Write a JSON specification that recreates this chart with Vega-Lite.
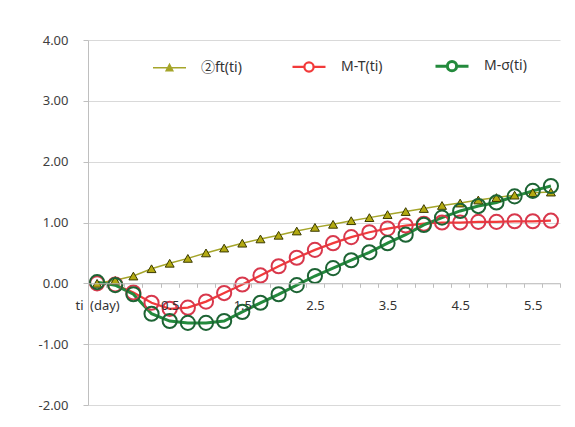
{
  "$schema": "https://vega.github.io/schema/vega-lite/v6.json",
  "width": 472,
  "height": 365,
  "autosize": "none",
  "padding": {"left": 88, "top": 40, "right": 15, "bottom": 22},
  "background": "white",
  "config": {
    "view": {"stroke": null},
    "font": "Noto Sans",
    "axis": {"labelFont": "Noto Sans", "labelColor": "#404040", "labelFontSize": 13, "title": null}
  },
  "data": {
    "values": [
      {"ti": "0", "ft": 0.00, "mt": 0.00, "ms": 0.02},
      {"ti": "0.125", "ft": 0.05, "mt": -0.02, "ms": -0.03},
      {"ti": "0.25", "ft": 0.12, "mt": -0.15, "ms": -0.18},
      {"ti": "0.375", "ft": 0.24, "mt": -0.32, "ms": -0.50},
      {"ti": "0.5", "ft": 0.33, "mt": -0.42, "ms": -0.62},
      {"ti": "0.75", "ft": 0.41, "mt": -0.40, "ms": -0.65},
      {"ti": "1", "ft": 0.50, "mt": -0.30, "ms": -0.65},
      {"ti": "1.25", "ft": 0.58, "mt": -0.16, "ms": -0.62},
      {"ti": "1.5", "ft": 0.66, "mt": -0.02, "ms": -0.47},
      {"ti": "1.75", "ft": 0.73, "mt": 0.13, "ms": -0.32},
      {"ti": "2", "ft": 0.79, "mt": 0.28, "ms": -0.18},
      {"ti": "2.25", "ft": 0.86, "mt": 0.42, "ms": -0.03},
      {"ti": "2.5", "ft": 0.92, "mt": 0.55, "ms": 0.12},
      {"ti": "2.75", "ft": 0.97, "mt": 0.66, "ms": 0.25},
      {"ti": "3", "ft": 1.03, "mt": 0.76, "ms": 0.38},
      {"ti": "3.25", "ft": 1.08, "mt": 0.84, "ms": 0.51},
      {"ti": "3.5", "ft": 1.13, "mt": 0.90, "ms": 0.66},
      {"ti": "3.75", "ft": 1.18, "mt": 0.95, "ms": 0.80},
      {"ti": "4", "ft": 1.23, "mt": 0.98, "ms": 0.96},
      {"ti": "4.25", "ft": 1.28, "mt": 1.00, "ms": 1.08},
      {"ti": "4.5", "ft": 1.32, "mt": 1.00, "ms": 1.19},
      {"ti": "4.75", "ft": 1.37, "mt": 1.01, "ms": 1.27},
      {"ti": "5", "ft": 1.41, "mt": 1.01, "ms": 1.33},
      {"ti": "5.25", "ft": 1.45, "mt": 1.02, "ms": 1.43},
      {"ti": "5.5", "ft": 1.49, "mt": 1.02, "ms": 1.52},
      {"ti": "5.75", "ft": 1.50, "mt": 1.03, "ms": 1.60}
    ]
  },
  "transform": [{"fold": ["ft", "mt", "ms"], "as": ["series", "value"]}],
  "encoding": {
    "x": {
      "field": "ti",
      "type": "ordinal",
      "scale": {
        "type": "band",
        "paddingInner": 0,
        "paddingOuter": 0,
        "domain": ["0", "0.125", "0.25", "0.375", "0.5", "0.75", "1", "1.25", "1.5", "1.75", "2", "2.25", "2.5", "2.75", "3", "3.25", "3.5", "3.75", "4", "4.25", "4.5", "4.75", "5", "5.25", "5.5", "5.75"]
      },
      "axis": {
        "orient": "bottom",
        "offset": -121.7,
        "zindex": 1,
        "labelAngle": 0,
        "labelOverlap": false,
        "labelPadding": 12,
        "labelColor": "#333333",
        "tickBand": "extent",
        "tickSize": 4,
        "tickColor": "#bfbfbf",
        "domainColor": "#bfbfbf",
        "grid": false,
        "labelExpr": "datum.value == '0' ? 'ti\u2002(day)' : (indexof(['0.5','1.5','2.5','3.5','4.5','5.5'], datum.value) >= 0 ? datum.value : '')"
      }
    },
    "y": {
      "field": "value",
      "type": "quantitative",
      "scale": {"domain": [-2, 4], "nice": false},
      "axis": {
        "values": [-2, -1, 0, 1, 2, 3, 4],
        "labelExpr": "replace(format(datum.value, '.2f'), '\u2212', '-')",
        "grid": true,
        "gridColor": "#d9d9d9",
        "domainColor": "#bfbfbf",
        "tickColor": "#bfbfbf",
        "tickSize": 5,
        "labelPadding": 15
      }
    }
  },
  "layer": [
    {
      "mark": {"type": "line"},
      "encoding": {
        "color": {
          "field": "series",
          "type": "nominal",
          "scale": {"domain": ["ft", "mt", "ms"], "range": ["#a5a52a", "#f23a3a", "#238a3c"]},
          "legend": {
            "title": null,
            "orient": "none",
            "legendX": 64,
            "legendY": 8,
            "direction": "horizontal",
            "columnPadding": 46,
            "labelOffset": 14,
            "labelFont": "Noto Sans, Noto Sans CJK JP",
            "labelFontSize": 14,
            "labelColor": "#333333",
            "symbolSize": 1089,
            "labelExpr": "datum.value == 'ft' ? '②ft(ti)' : (datum.value == 'mt' ? 'M-T(ti)' : 'M-σ(ti)')",
            "encode": {
              "symbols": {
                "update": {
                  "shape": {"signal": "datum.value == 'ft' ? 'M-1,0H1M-0.2,0.18L0,-0.2L0.2,0.18Z' : 'M-1,0H-0.28M0.28,0H1M-0.28,0A0.28,0.28 0 1,1 0.28,0A0.28,0.28 0 1,1 -0.28,0Z'"},
                  "fill": {"signal": "datum.value == 'ft' ? '#a8a21c' : 'white'"},
                  "strokeWidth": {"signal": "datum.value == 'ft' ? 1.5 : 3"},
                  "size": {"value": 1089}
                }
              }
            }
          }
        },
        "strokeWidth": {
          "field": "series",
          "type": "nominal",
          "scale": {"domain": ["ft", "mt", "ms"], "range": [1.5, 3, 3]},
          "legend": null
        },
        "detail": {"field": "series"}
      }
    },
    {
      "transform": [{"filter": "datum.series == 'ft'"}],
      "mark": {"type": "point", "shape": "triangle-up", "filled": true, "size": 80, "fill": "#b3aa12", "stroke": "#3a3a00", "strokeWidth": 1, "opacity": 1}
    },
    {
      "transform": [{"filter": "datum.series != 'ft'"}],
      "mark": {"type": "point", "shape": "circle", "filled": false, "size": 200, "strokeWidth": 2, "opacity": 1},
      "encoding": {
        "stroke": {
          "field": "series",
          "type": "nominal",
          "scale": {"domain": ["mt", "ms"], "range": ["#d8384c", "#1d6434"]},
          "legend": null
        }
      }
    }
  ]
}
